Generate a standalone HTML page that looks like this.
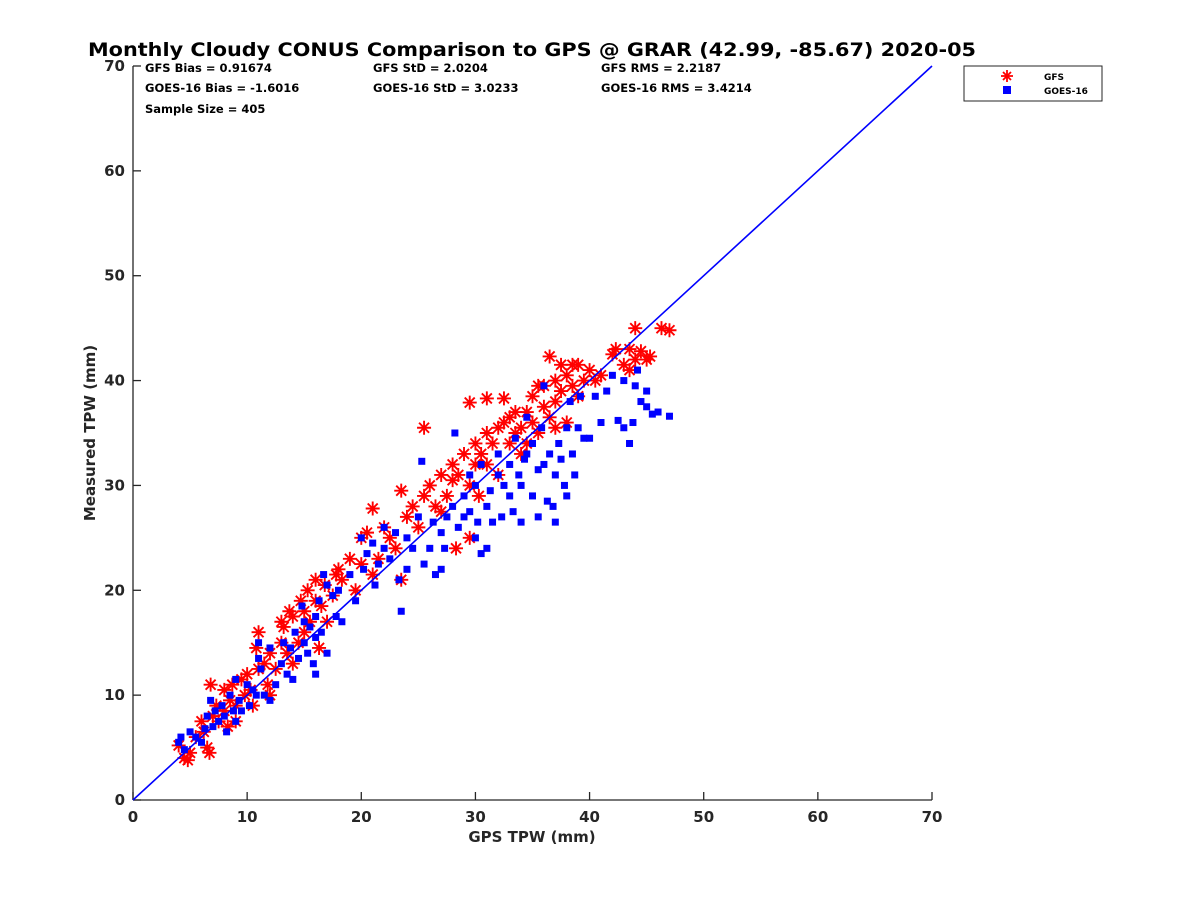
<!DOCTYPE html>
<html><head><meta charset="utf-8"><style>
body{margin:0;background:#fff;}
svg text{font-family:"DejaVu Sans","Liberation Sans",sans-serif;font-weight:bold;fill:#262626;}
</style></head><body>
<svg id="chart" width="1200" height="900" xmlns="http://www.w3.org/2000/svg">
<rect width="1200" height="900" fill="#fff"/>
<text x="532" y="56" text-anchor="middle" font-size="19" style="fill:#000" textLength="888" lengthAdjust="spacingAndGlyphs">Monthly Cloudy CONUS Comparison to GPS @ GRAR (42.99, -85.67) 2020-05</text>
<g font-size="11.5">
<text x="145" y="72" style="fill:#000">GFS Bias = 0.91674</text>
<text x="373" y="72" style="fill:#000">GFS StD = 2.0204</text>
<text x="601" y="72" style="fill:#000">GFS RMS = 2.2187</text>
<text x="145" y="92" style="fill:#000">GOES-16 Bias = -1.6016</text>
<text x="373" y="92" style="fill:#000">GOES-16 StD = 3.0233</text>
<text x="601" y="92" style="fill:#000">GOES-16 RMS = 3.4214</text>
<text x="145" y="113" style="fill:#000">Sample Size = 405</text>
</g>
<g id="axes"></g>
<g id="marks"></g>
<g>
<rect x="964" y="66" width="138" height="35" fill="#fff" stroke="#262626" stroke-width="1"/>
<g>
<path d="M1007,70v12M1001,76h12M1003,72l8,8M1011,72l-8,8" stroke="#f00" stroke-width="1.8"/>
<text x="1044" y="80" font-size="9" style="fill:#000">GFS</text></g>
<g>
<rect x="1003" y="86" width="8" height="8" fill="#00f"/>
<text x="1044" y="94" font-size="9" style="fill:#000">GOES-16</text></g>
</g>
<text x="532" y="842" text-anchor="middle" font-size="15">GPS TPW (mm)</text>
<text transform="translate(95,433) rotate(-90)" text-anchor="middle" font-size="15">Measured TPW (mm)</text>
</svg>
<script>
const ticks=[0,10,20,30,40,50,60,70];
const gfsX=[4,4.5,4.8,5,5.5,6,6.2,6.5,6.7,6.8,7,7.3,7.5,8,8,8.3,8.5,8.7,9,9,9.5,9.8,10,10.3,10.5,10.8,11,11,11.5,11.8,12,12,12.5,13,13,13.2,13.5,13.7,14,14,14.5,14.7,15,15,15.3,15.5,16,16,16.3,16.5,16.8,17,17.5,17.8,18,18.3,19,19.5,20,20,20.5,21,21,21.5,22,22.5,23,23.5,23.5,24,24.5,25,25.5,25.5,26,26.5,27,27,27.5,28,28,28.3,28.5,29,29.5,29.5,29.5,30,30,30.3,30.5,31,31,31,31.5,32,32,32.5,32.5,33,33,33.5,33.5,34,34,34.5,35,35,35.5,35.5,36,36.5,36.5,37,37,37.5,37.5,38,38,38.5,39,39,39.5,40,40.5,41,42,42.3,43,43.5,43.5,44,44,44.5,45,45.3,46.3,47,37,34.5,36,38.5];
const gfsY=[5.2,4,3.8,4.5,6,7.5,6.5,5,4.5,11,8,9,7.5,8.5,10.5,7,9.5,11,9,7.5,11.5,10,12,10.5,9,14.5,16,12.5,13,11,10,14,12.5,15,17,16.5,14,18,17.5,13,15,19,16,18,20,17,21,19,14.5,18.5,20.5,17,19.5,21.5,22,21,23,20,25,22.5,25.5,27.8,21.5,23,26,25,24,29.5,21,27,28,26,35.5,29,30,28,31,27.5,29,30.5,32,24,31,33,37.9,25,30,32,34,29,33,38.3,32,35,34,31,35.5,38.3,36,34,36.5,35,37,35.5,33,37,36,38.5,35,39.5,37.5,42.3,36.5,40,38,39,41.5,36,40.5,39.5,41.5,38.5,40,41,40,40.5,42.5,43,41.5,41,43,45,42,42.8,42,42.3,45,44.8,35.5,34,39.5,41.5];
const goesX=[4,4.2,4.5,5,5.5,6,6.3,6.5,6.8,7,7.2,7.5,7.8,8,8.2,8.5,8.8,9,9.3,9.5,10,10.2,10.5,10.8,11,11,11.2,11.5,12,12.5,13,13.2,13.5,13.8,14,14.2,14.5,14.8,15,15,15.3,15.5,15.8,16,16,16.3,16.5,16.7,17,17,17.5,17.8,18,18.3,19,19.5,20,20.2,20.5,21,21.2,21.5,22,22,22.5,23,23.3,23.5,24,24,24.5,25,25.3,25.5,26,26.3,26.5,27,27,27.3,27.5,28,28.2,28.5,29,29,29.5,29.5,30,30,30.2,30.5,30.5,31,31,31.3,31.5,32,32,32.3,32.5,33,33,33.3,33.5,33.8,34,34,34.3,34.5,34.5,35,35,35.5,35.5,35.8,36,36,36.3,36.5,36.8,37,37,37.3,37.5,37.8,38,38,38.3,38.5,38.7,39,39.2,39.5,40,40.5,41,41.5,42,42.5,43,43,43.5,43.8,44,44.2,44.5,45,45,45.5,46,47,16,12,9];
const goesY=[5.5,6,4.8,6.5,6,5.5,6.8,8,9.5,7,8.5,7.5,9,8,6.5,10,8.5,7.5,9.5,8.5,11,9,10.5,10,15,13.5,12.5,10,9.5,11,13,15,12,14.5,11.5,16,13.5,18.5,15,17,14,16.5,13,15.5,17.5,19,16,21.5,20.5,14,19.5,17.5,20,17,21.5,19,25,22,23.5,24.5,20.5,22.5,24,26,23,25.5,21,18,22,25,24,27,32.3,22.5,24,26.5,21.5,25.5,22,24,27,28,35,26,29,27,31,27.5,25,30,26.5,32,23.5,28,24,29.5,26.5,31,33,27,30,32,29,27.5,34.5,31,30,26.5,32.5,33,36.5,34,29,31.5,27,35.5,32,39.5,28.5,33,28,31,26.5,34,32.5,30,35.5,29,38,33,31,35.5,38.5,34.5,34.5,38.5,36,39,40.5,36.2,35.5,40,34,36,39.5,41,38,39,37.5,36.8,37,36.6,12,14.5,11.5];
const X0=133,X1=932,Y0=800,Y1=66;
const sx=v=>X0+(v-0)/70*(X1-X0);
const sy=v=>Y0-(v-0)/70*(Y0-Y1);
const NS='http://www.w3.org/2000/svg';
function mk(t,a,p){const e=document.createElementNS(NS,t);for(const k in a)e.setAttribute(k,a[k]);p.appendChild(e);return e;}
const ax=document.getElementById('axes'),mg=document.getElementById('marks');
let xl=mk('line',{x1:X0,y1:Y0,x2:X1,y2:Y0,stroke:'#262626','stroke-width':1.3},ax);


let yl=mk('line',{x1:X0,y1:Y0,x2:X0,y2:Y1,stroke:'#262626','stroke-width':1.3},ax);


ticks.forEach(t=>{
 mk('line',{x1:sx(t),y1:Y0,x2:sx(t),y2:Y0-8,stroke:'#262626','stroke-width':1.3},ax);
 mk('line',{x1:X0,y1:sy(t),x2:X0+8,y2:sy(t),stroke:'#262626','stroke-width':1.3},ax);
 let a=mk('text',{x:sx(t),y:Y0+22,'text-anchor':'middle','font-size':15},ax);a.textContent=t;
 
 
 let b=mk('text',{x:X0-8,y:sy(t)+5,'text-anchor':'end','font-size':15},ax);b.textContent=t;
 
 
});
gfsX.forEach((x,i)=>{const cx=sx(x),cy=sy(gfsY[i]),r=7,d=5;
 const p=mk('path',{d:`M${cx},${cy-r}v${2*r}M${cx-r},${cy}h${2*r}M${cx-d},${cy-d}l${2*d},${2*d}M${cx+d},${cy-d}l${-2*d},${2*d}`,stroke:'#f00','stroke-width':1.9,fill:'none'},mg);
 
 
});
goesX.forEach((x,i)=>{
 const r=mk('rect',{x:sx(x)-3.5,y:sy(goesY[i])-3.5,width:7,height:7,fill:'#00f'},mg);
 
 
});
const ol=mk('line',{x1:sx(0),y1:sy(0),x2:sx(70),y2:sy(70),stroke:'#00f','stroke-width':1.6},mg);


</script>
</body></html>
